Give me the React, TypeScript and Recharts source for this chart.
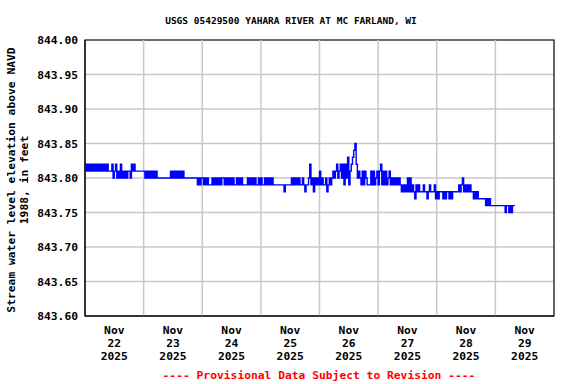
import {
  LineChart,
  Line,
  XAxis,
  YAxis,
  CartesianGrid,
  ReferenceLine,
  ReferenceArea,
} from 'recharts';

// half-hourly water levels, one hex digit per reading = hundredths of a foot above 843.70
const nov22 = ['cbcbcbcbcbcbcbcbcbc', 'bbb', 'cabca', 'bacababab', 'bacbc', 'bbbbbbb'].join('');
const nov23 = ['b', 'abababababa', 'aaaaaaaaaa', 'babababababa', 'aaaaaaaaaa', '9a9a'].join('');
const nov24 = ['a9a9a9', '99', 'a9a9a9a9', 'aa', '9a9a9a9a', '99', 'a9a9a', '9999a9a9a9a99a9'].join('');
const nov25 = ['a99a9a9a9a9', '9999999', '989', '9999', 'a9a9a9a', '99a9899', 'ac9a8a9a9'].join('');
const nov26 = ['b9', 'a99a89a9a', 'ba', 'bca', 'bcac9cad9b', 'cdef', 'caba', '9b9ba999b9b9ab'].join('');
const nov27 = ['9bc9b9b9ab9a9a9a9a98', '9898', 'a8a8', '987989', '88898878988897'].join('');
const nov28 = ['87888787887878', '8888', '989a898989', '887878777777', '67676', '666'].join('');
const nov29 = ['66666666', '5', '66', '5656', '66'].join('');

const days = [nov22, nov23, nov24, nov25, nov26, nov27, nov28, nov29];
const dayLabels = ['22', '23', '24', '25', '26', '27', '28', '29'];
const monthLabel = 'Nov';
const yearLabel = '2025';
const levelTicks = [843.6, 843.65, 843.7, 843.75, 843.8, 843.85, 843.9, 843.95, 844.0];

const PER_DAY = 48;
const noonTicks = dayLabels.map((_, d) => d * PER_DAY + PER_DAY / 2);
const midnightLines = dayLabels.slice(1).map((_, d) => (d + 1) * PER_DAY);

const data = days.flatMap((s, d) =>
  s.split('').map((c, k) => ({
    t: d * PER_DAY + k,
    level: Number((843.7 + parseInt(c, 16) / 100).toFixed(2)),
  })),
);

const FONT = '"DejaVu Sans Mono", monospace';

// eslint-disable-next-line @typescript-eslint/no-explicit-any
function DayTick({ x, y, payload }: any) {
  const d = noonTicks.indexOf(payload.value);
  return (
    <text x={x} y={y} textAnchor="middle" fontFamily={FONT} fontWeight="bold" fontSize={11.3} fill="#000">
      <tspan x={x} y={y + 18}>{monthLabel}</tspan>
      <tspan x={x} y={y + 31}>{dayLabels[d]}</tspan>
      <tspan x={x} y={y + 44}>{yearLabel}</tspan>
    </text>
  );
}

export default function App() {
  return (
    <div style={{ position: 'fixed', left: 0, top: 0, width: 576, height: 384, background: '#fff' }}>
      <LineChart width={576} height={384} data={data} margin={{ top: 40, right: 22, bottom: 0, left: 0 }}>
        <CartesianGrid vertical={false} stroke="#c8c8c8" strokeWidth={1.5} />
        {midnightLines.map((v) => (
          <ReferenceLine key={v} x={v} stroke="#c8c8c8" strokeWidth={1.5} />
        ))}
        <XAxis
          dataKey="t"
          type="number"
          domain={[0, PER_DAY * 8]}
          ticks={noonTicks}
          interval={0}
          height={68}
          tickLine={false}
          tickSize={0}
          tickMargin={0}
          axisLine={{ stroke: '#000' }}
          tick={<DayTick />}
        />
        <YAxis
          type="number"
          domain={[843.6, 844.0]}
          ticks={levelTicks}
          interval={0}
          width={85}
          tickLine={false}
          tickSize={0}
          tickMargin={7}
          axisLine={{ stroke: '#000' }}
          tickFormatter={(v: number) => v.toFixed(2)}
          tick={{ fontFamily: FONT, fontWeight: 'bold', fontSize: 11.3, fill: '#000' }}
        />
        <Line
          type="stepAfter"
          dataKey="level"
          stroke="#0000ff"
          strokeWidth={1.4}
          dot={false}
          isAnimationActive={false}
        />
        <ReferenceArea x1={0} x2={PER_DAY * 8} y1={843.6} y2={844.0} fill="none" stroke="#000" strokeWidth={1.2} />
      </LineChart>
      <svg
        width={576}
        height={384}
        style={{ position: 'absolute', left: 0, top: 0, pointerEvents: 'none' }}
        fontFamily={FONT}
        fontWeight="bold"
      >
        <text x={291} y={24} textAnchor="middle" fontSize={9.5} fill="#000">
          USGS 05429500 YAHARA RIVER AT MC FARLAND, WI
        </text>
        <text x={15} y={180} textAnchor="middle" fontSize={11.3} fill="#000" transform="rotate(-90 15 180)">
          Stream water level elevation above NAVD
        </text>
        <text x={28} y={180} textAnchor="middle" fontSize={11.3} fill="#000" transform="rotate(-90 28 180)">
          1988, in feet
        </text>
        <text x={319} y={379} textAnchor="middle" fontSize={11.3} fill="#ff0000">
          ---- Provisional Data Subject to Revision ----
        </text>
      </svg>
    </div>
  );
}
